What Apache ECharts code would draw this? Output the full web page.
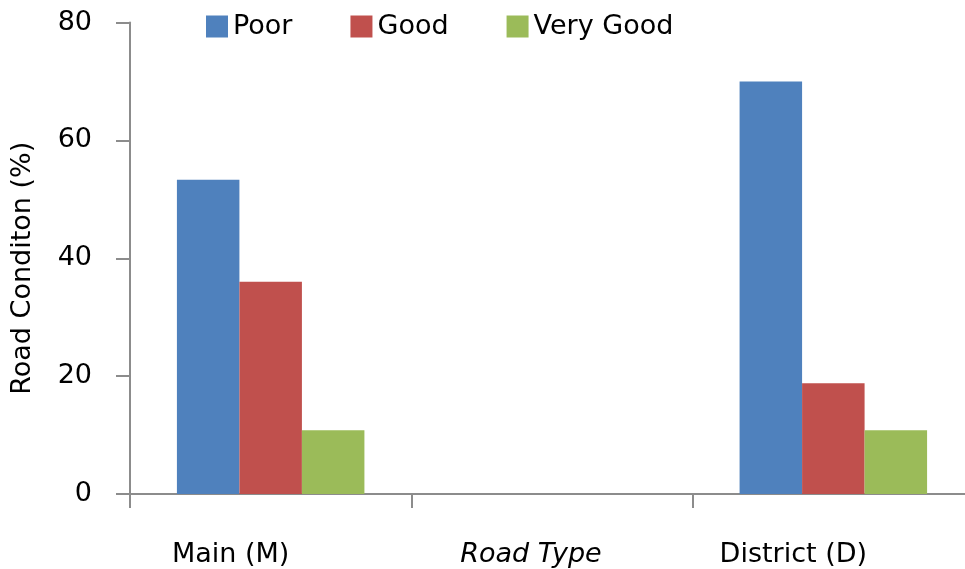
<!DOCTYPE html>
<html>
<head>
<meta charset="utf-8">
<script src="https://cdn.jsdelivr.net/npm/echarts@6/dist/echarts.min.js"></script>
<style>
  html, body { margin: 0; padding: 0; background: #fff; }
  #chart { width: 965px; height: 569px; }
</style>
</head>
<body>
<div id="chart"></div>
<script>
// data
var categories = ['Main (M)', '', 'District (D)'];
var poor = [53.3, '-', 70];
var good = [36, '-', 18.8];
var veryGood = [10.8, '-', 10.8];
var yTicks = [0, 20, 40, 60, 80];

var axisGray = '#8c8c8c';
var font = 'DejaVu Sans';

var myChart = echarts.init(document.getElementById('chart'));
var option = {
    animation: false,
    textStyle: { fontFamily: font },
    legend: {
        left: 201,
        top: 8,
        itemWidth: 22,
        itemHeight: 22,
        itemGap: 58,
        icon: 'rect',
        textStyle: { fontFamily: font, fontSize: 27, color: '#000' },
        data: ['Poor', 'Good', 'Very Good']
    },
    grid: {
        left: 130,
        right: -9,
        top: 22.5,
        bottom: 75,
        outerBoundsMode: 'none'
    },
    xAxis: {
        type: 'category',
        data: categories,
        name: 'Road Type',
        nameLocation: 'middle',
        nameGap: 47,
        nameMoveOverlap: false,
        nameTextStyle: {
            fontFamily: font, fontSize: 27, fontStyle: 'italic', color: '#000',
            padding: [0, 42, 0, 0]
        },
        axisLine: { lineStyle: { color: axisGray, width: 2 } },
        axisTick: { show: true, length: 14, lineStyle: { color: axisGray, width: 2 } },
        axisLabel: {
            margin: 47,
            fontFamily: font, fontSize: 27, color: '#000',
            padding: [0, 80, 0, 0]
        }
    },
    yAxis: {
        type: 'value',
        min: yTicks[0],
        max: yTicks[yTicks.length - 1],
        interval: 20,
        name: 'Road Conditon (%)',
        nameLocation: 'middle',
        nameGap: 94,
        nameMoveOverlap: false,
        nameTextStyle: {
            fontFamily: font, fontSize: 27, color: '#000',
            padding: [0, 20, 0, 0]
        },
        axisLine: { show: true, lineStyle: { color: axisGray, width: 2 } },
        axisTick: { show: true, length: 14, lineStyle: { color: axisGray, width: 2 } },
        axisLabel: { margin: 38, fontFamily: font, fontSize: 27, color: '#000' },
        splitLine: { show: false }
    },
    series: [
        {
            name: 'Poor', type: 'bar', data: poor,
            barWidth: 62.5, barGap: '0%',
            itemStyle: { color: '#4F81BD' }
        },
        {
            name: 'Good', type: 'bar', data: good,
            barWidth: 62.5, barGap: '0%',
            itemStyle: { color: '#C0504D' }
        },
        {
            name: 'Very Good', type: 'bar', data: veryGood,
            barWidth: 62.5, barGap: '0%',
            itemStyle: { color: '#9BBB59' }
        }
    ]
};
myChart.setOption(option);
</script>
</body>
</html>
